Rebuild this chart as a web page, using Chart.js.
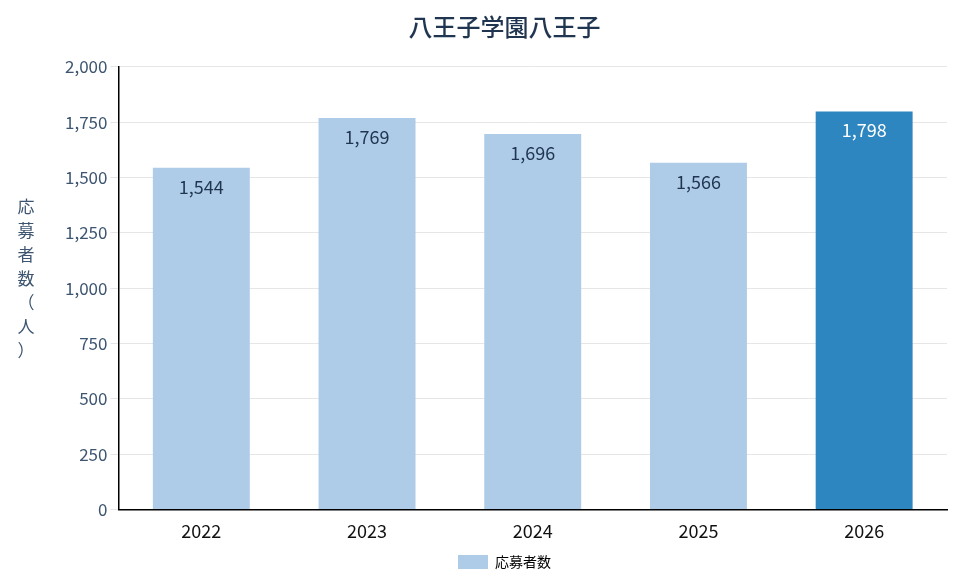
<!DOCTYPE html>
<html>
<head>
<meta charset="utf-8">
<script src="https://cdn.jsdelivr.net/npm/chart.js@4"></script>
<style>
html,body{margin:0;padding:0;background:#fff;}
#wrap{width:975px;height:579px;}
</style>
</head>
<body>
<div id="wrap"><canvas id="myChart"></canvas></div>
<script>
const years = ['2022', '2023', '2024', '2025', '2026']
const applicants = [1544, 1769, 1696, 1566, 1798]
const barColors = ['#aecbe7', '#aecbe7', '#aecbe7', '#aecbe7', '#2e86c1']
const labelColors = ['#1f3550', '#1f3550', '#1f3550', '#1f3550', '#ffffff']
const yTitle = '応募者数（人）'
const font = "'Noto Sans CJK JP', 'Noto Sans', sans-serif"

// value labels inside bar tops + upright vertical axis title
const extras = {
    id: 'extras',
    afterDatasetsDraw(chart) {
        const ctx = chart.ctx
        const meta = chart.getDatasetMeta(0)
        ctx.save()
        ctx.font = '18px ' + font
        ctx.textAlign = 'center'
        ctx.textBaseline = 'top'
        meta.data.forEach((bar, i) => {
            ctx.fillStyle = labelColors[i]
            ctx.fillText(applicants[i].toLocaleString('en-US'), bar.x, bar.y + 10)
        })
        ctx.font = '17px ' + font
        ctx.fillStyle = '#3d5570'
        ctx.textBaseline = 'middle'
        const chars = [...yTitle]
        const step = 24
        const mid = (chart.chartArea.top + chart.chartArea.bottom) / 2
        chars.forEach((c, i) => {
            ctx.fillText(c, 26, mid - 10 + (i - (chars.length - 1) / 2) * step)
        })
        ctx.restore()
    }
}

new Chart('myChart', {
    type: 'bar',
    data: {
        labels: years,
        datasets: [{
            label: '応募者数',
            data: applicants,
            backgroundColor: barColors,
            categoryPercentage: 1,
            barPercentage: 0.585
        }]
    },
    options: {
        responsive: true,
        maintainAspectRatio: false,
        animation: false,
        layout: {padding: {left: 62, right: 28, top: 4}},
        plugins: {
            title: {
                display: true,
                text: '八王子学園八王子',
                color: '#1f3550',
                font: {family: font, size: 24, weight: '500'},
                padding: {top: 8, bottom: 26}
            },
            legend: {
                position: 'bottom',
                labels: {
                    color: '#1f3550',
                    font: {family: font, size: 14},
                    boxWidth: 30,
                    boxHeight: 14,
                    generateLabels: () => [{text: '応募者数', fillStyle: '#aecbe7', strokeStyle: '#aecbe7', lineWidth: 0}]
                }
            },
            tooltip: {enabled: false}
        },
        scales: {
            x: {
                grid: {display: false},
                border: {color: '#000', width: 1.5},
                ticks: {color: '#111', font: {family: font, size: 18}}
            },
            y: {
                min: 0,
                max: 2000,
                ticks: {stepSize: 250, color: '#3d5570', font: {family: font, size: 17}},
                grid: {color: '#e6e6e6'},
                border: {color: '#000', width: 1.5}
            }
        }
    },
    plugins: [extras]
})
</script>
</body>
</html>
